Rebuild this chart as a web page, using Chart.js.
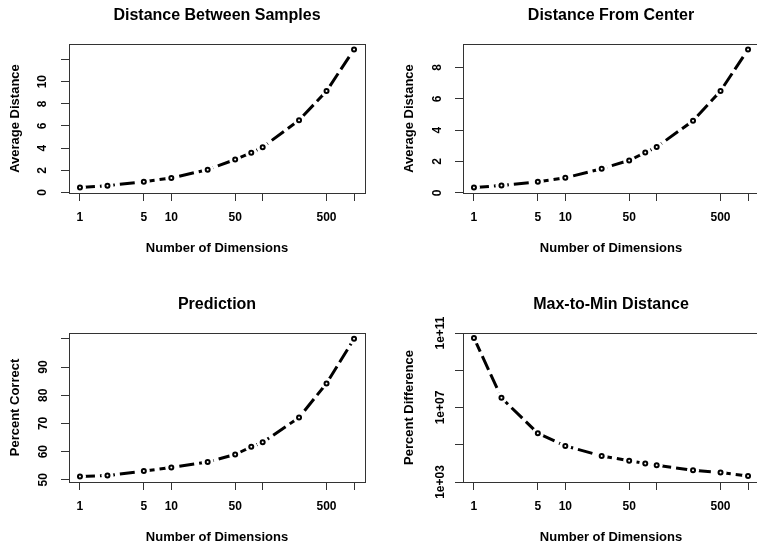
<!DOCTYPE html>
<html>
<head>
<meta charset="utf-8">
<script src="https://cdn.jsdelivr.net/npm/chart.js@4/dist/chart.umd.min.js"></script>
<style>
  body { margin: 0; background: #fff; overflow: hidden; }
  #wrap { position: relative; width: 757px; height: 548px; overflow: hidden; }
  canvas { position: absolute; }
</style>
</head>
<body>
<div id="wrap">
  <canvas id="p1" width="394" height="289" style="left:0;top:0"></canvas>
  <canvas id="p2" width="394" height="289" style="left:394px;top:0"></canvas>
  <canvas id="p3" width="394" height="289" style="left:0;top:289px"></canvas>
  <canvas id="p4" width="394" height="289" style="left:394px;top:289px"></canvas>
</div>
<script>
// values
const dims = [1, 2, 5, 10, 25, 50, 75, 100, 250, 500, 1000];
const betweenSamples = [0.45, 0.61, 0.97, 1.30, 2.06, 2.97, 3.58, 4.09, 6.52, 9.15, 12.91];
const fromCenter = [0.34, 0.47, 0.71, 0.96, 1.54, 2.07, 2.57, 2.93, 4.60, 6.50, 9.15];
const percentCorrect = [51.2, 51.5, 53.1, 54.4, 56.3, 59.0, 61.7, 63.3, 72.1, 84.2, 100.0];
const percentDiff = [5.4e10, 3.3e7, 4.1e5, 8.7e4, 2.5e4, 1.4e4, 1.0e4, 7.9e3, 4.3e3, 3.2e3, 2.1e3];

const xTicks = [1, 5, 10, 50, 100, 500, 1000];
const xTickLabels = ["1", "5", "10", "50", "", "500", ""];

const y1Ticks = [0, 2, 4, 6, 8, 10, 12];
const y1Labels = ["0", "2", "4", "6", "8", "10", ""];
const y2Ticks = [0, 2, 4, 6, 8];
const y2Labels = ["0", "2", "4", "6", "8"];
const y3Ticks = [50, 60, 70, 80, 90, 100];
const y3Labels = ["50", "60", "70", "80", "90", ""];
const y4Ticks = [1e3, 1e5, 1e7, 1e9, 1e11];
const y4Labels = ["1e+03", "", "1e+07", "", "1e+11"];

Chart.defaults.font.family = "'Liberation Sans', Arial, sans-serif";
Chart.defaults.color = "#000";

// R style box around the plot region
const boxPlugin = {
  id: "box",
  afterDraw(chart) {
    const a = chart.chartArea;
    const ctx = chart.ctx;
    ctx.save();
    ctx.strokeStyle = "#333";
    ctx.lineWidth = 1;
    ctx.strokeRect(Math.round(a.left) + 0.5, Math.round(a.top) + 0.5,
      Math.round(a.right - a.left), Math.round(a.bottom - a.top));
    ctx.restore();
  }
};

const tickGrid = { drawOnChartArea: false, drawTicks: true, tickLength: 8, color: "#333", lineWidth: 1 };

function makePanel(id, title, yTitle, values, yType, yMin, yMax, yTicks, yLabels, yPad) {
  const pts = dims.map((d, i) => ({ x: d, y: values[i] }));
  new Chart(document.getElementById(id), {
    type: "line",
    data: {
      datasets: [
        // dashed line, then white discs to leave gaps like type="b", then the open circles
        { data: pts, order: 3, borderColor: "#000", borderWidth: 3, borderDash: [15, 5],
          pointRadius: 0, fill: false, tension: 0 },
        { data: pts, order: 2, showLine: false, pointRadius: 6, pointBorderWidth: 0,
          pointBackgroundColor: "#fff", pointBorderColor: "#fff" },
        { data: pts, order: 1, showLine: false, pointRadius: 2, pointBorderWidth: 2,
          pointBorderColor: "#000", pointBackgroundColor: "#fff" }
      ]
    },
    options: {
      responsive: false,
      animation: false,
      events: [],
      layout: { padding: { right: 29 } },
      plugins: {
        legend: { display: false },
        tooltip: { enabled: false },
        title: {
          display: true, text: title, fullSize: false, color: "#000",
          font: { size: 16, weight: "bold" },
          padding: { top: 6.4, bottom: 18.4 }
        }
      },
      scales: {
        x: {
          type: "logarithmic",
          min: 0.7586, max: 1318.3,
          border: { display: false },
          grid: tickGrid,
          ticks: {
            autoSkip: false, maxRotation: 0, padding: 9,
            font: { size: 12, weight: "bold" },
            callback: (v, i) => xTickLabels[i]
          },
          afterBuildTicks: s => { s.ticks = xTicks.map(v => ({ value: v })); },
          afterFit: s => { s.height = 96; },
          title: {
            display: true, text: "Number of Dimensions",
            font: { size: 13, weight: "bold" },
            padding: { top: 0, bottom: 33 }
          }
        },
        y: {
          type: yType,
          min: yMin, max: yMax,
          border: { display: false },
          grid: tickGrid,
          ticks: {
            autoSkip: false, minRotation: 90, maxRotation: 90,
            crossAlign: "center", padding: yPad,
            font: { size: 12, weight: "bold" },
            callback: (v, i) => yLabels[i]
          },
          afterBuildTicks: s => { s.ticks = yTicks.map(v => ({ value: v })); },
          afterFit: s => { s.width = 69; },
          title: {
            display: true, text: yTitle,
            font: { size: 13, weight: "bold" },
            padding: { top: 7.2, bottom: 0 }
          }
        }
      }
    },
    plugins: [boxPlugin]
  });
}

makePanel("p1", "Distance Between Samples", "Average Distance", betweenSamples,
  "linear", -0.05, 13.4, y1Ticks, y1Labels, 11.3);
makePanel("p2", "Distance From Center", "Average Distance", fromCenter,
  "linear", -0.01, 9.5, y2Ticks, y2Labels, 13.7);
makePanel("p3", "Prediction", "Percent Correct", percentCorrect,
  "linear", 49.24, 102.06, y3Ticks, y3Labels, 11);
makePanel("p4", "Max-to-Min Distance", "Percent Difference", percentDiff,
  "logarithmic", 1e3, 1e11, y4Ticks, y4Labels, -2.85);
</script>
</body>
</html>
